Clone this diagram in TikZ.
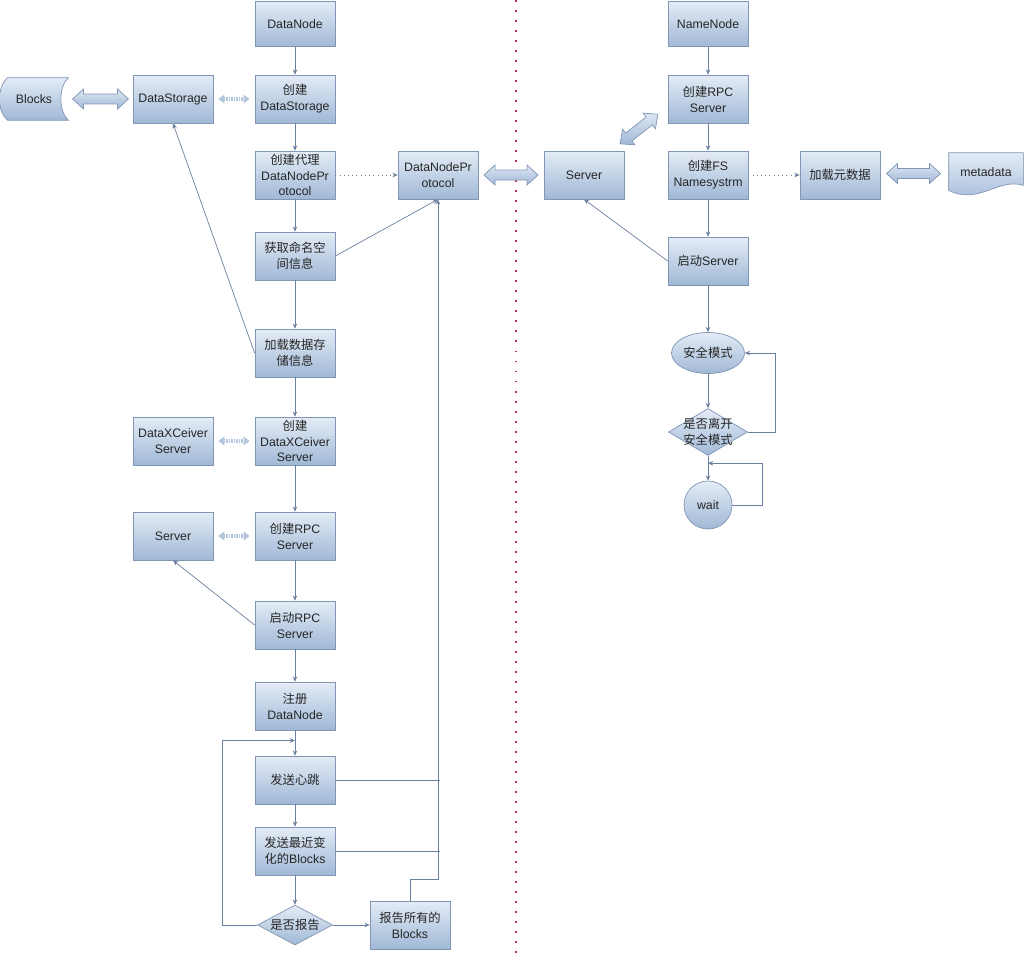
\documentclass[tikz,border=0pt]{standalone}
\usepackage{fontspec}
\setmainfont{Liberation Sans}
\newfontfamily\cjk{Noto Sans CJK SC}
\usetikzlibrary{shapes.geometric,arrows.meta,calc,backgrounds}

\definecolor{boxtop}{RGB}{228,236,246}
\definecolor{boxbot}{RGB}{160,184,214}
\definecolor{boxline}{RGB}{128,150,180}
\definecolor{flowline}{RGB}{105,128,158}
\definecolor{fattop}{RGB}{222,231,243}
\definecolor{fatbot}{RGB}{160,184,214}
\definecolor{divred}{RGB}{180,60,75}
\newcommand{\zh}[1]{{\cjk #1}}

\begin{document}
\begin{tikzpicture}[x=0.02cm,y=-0.02cm,
    font=\fontsize{7}{9}\selectfont,
    box/.style={rectangle,draw=boxline,line width=0.4pt,top color=boxtop,bottom color=boxbot,
                minimum width=1.6cm,minimum height=0.96cm,align=center,inner sep=1pt,text=black!85},
    decision/.style={diamond,draw=boxline,line width=0.4pt,top color=boxtop,bottom color=boxbot,
                inner sep=0pt,aspect=1.9,text=black!85},
    oval/.style={ellipse,draw=boxline,line width=0.4pt,top color=boxtop,bottom color=boxbot,
                inner sep=0pt,text=black!85},
    plain/.style={inner sep=0pt,text=black!85},
    store/.style={draw=boxline,line width=0.4pt,top color=boxtop,bottom color=boxbot},
    flow/.style={draw=flowline,line width=0.4pt,-{Stealth[length=3pt,width=2.6pt]}},
    link/.style={draw=flowline,line width=0.4pt},
    dotflow/.style={flow,dotted},
    hatched/.style={{Triangle[length=3.5pt,width=5pt]}-{Triangle[length=3.5pt,width=5pt]},
                draw=fatbot!80,line width=1.8pt,dash pattern=on 0.5pt off 0.45pt},
    fat/.style={draw=boxline,line width=0.4pt,top color=fattop,bottom color=fatbot},
    divider/.style={draw=divred,line width=1.1pt,dash pattern=on 1.1pt off 4.6pt},
  ]
  \useasboundingbox (0,0) rectangle (1024,953);

  % wide double arrow, #1 = centre, #2 = angle, #3 = half length
  \newcommand{\fatarrow}[3]{
    \begin{scope}[shift={(#1)},rotate=#2]
      \draw[fat] (-#3,0) -- (-#3+11,-10) -- (-#3+11,-5) -- (#3-11,-5) -- (#3-11,-10)
        -- (#3,0) -- (#3-11,10) -- (#3-11,5) -- (-#3+11,5) -- (-#3+11,10) -- cycle;
    \end{scope}
  }

  % ---------------------------------------------------------------- DataNode side
  \node[box,minimum height=0.9cm] (dn) at (295,24) {DataNode};
  \node[box] (mkstore) at (295,99)  {\zh{创建}\\DataStorage};
  \node[box] (mkproxy) at (295,175) {\zh{创建代理}\\DataNodePr\\otocol};
  \node[box] (getns)   at (295,256) {\zh{获取命名空}\\\zh{间信息}};
  \node[box] (loadst)  at (295,353) {\zh{加载数据存}\\\zh{储信息}};
  \node[box] (mkxc)    at (295,441) {\zh{创建}\\DataXCeiver\\Server};
  \node[box] (mkrpc)   at (295,536) {\zh{创建}RPC\\Server};
  \node[box] (runrpc)  at (295,625) {\zh{启动}RPC\\Server};
  \node[box] (reg)     at (295,706) {\zh{注册}\\DataNode};
  \node[box] (beat)    at (295,780) {\zh{发送心跳}};
  \node[box] (sendblk) at (295,851) {\zh{发送最近变}\\\zh{化的}Blocks};
  \node[decision,minimum width=1.5cm,minimum height=0.8cm] (ifrep) at (295,925) {\zh{是否报告}};
  \node[box] (repall)  at (410,925) {\zh{报告所有的}\\Blocks};

  \node[box] (dstore)  at (173,99)  {DataStorage};
  \node[box] (xcsrv)   at (173,441) {DataXCeiver\\Server};
  \node[box] (rpcsrv)  at (173,536) {Server};
  \node[box] (dnp)     at (438,175) {DataNodePr\\otocol};
  \node[plain,minimum width=1.36cm,minimum height=0.84cm] (blocks) at (34,99) {Blocks};

  \begin{scope}[on background layer]
    \draw[store] ($(blocks.north west)+(8,0)$) -- (blocks.north east)
      .. controls ($(blocks.east)+(-10,-12)$) and ($(blocks.east)+(-10,12)$) .. (blocks.south east)
      -- ($(blocks.south west)+(8,0)$)
      .. controls ($(blocks.west)+(-3,12)$) and ($(blocks.west)+(-3,-12)$) .. cycle;
  \end{scope}

  \foreach \a/\b in {dn/mkstore,mkstore/mkproxy,mkproxy/getns,getns/loadst,loadst/mkxc,
                     mkxc/mkrpc,mkrpc/runrpc,runrpc/reg,reg/beat,beat/sendblk,sendblk/ifrep}
    \draw[flow] (\a) -- (\b);

  % report loop
  \coordinate (back) at ($(reg.south)!0.4!(beat.north)$);
  \draw[flow] (ifrep.west) -- ++(-35,0) |- (back);
  \draw[flow] (ifrep) -- (repall);
  \draw[flow] (repall.north) -- ++(0,-21) -| (dnp.south);
  \draw[link] (beat.east) -- ++(105,0);
  \draw[link] (sendblk.east) -- ++(105,0);

  \draw[flow] (getns.east) -- (dnp.south);
  \draw[flow] (loadst.west) -- (dstore.south);
  \draw[flow] (runrpc.west) -- (rpcsrv.south);
  \draw[dotflow] (mkproxy) -- (dnp);

  \foreach \a/\b in {dstore/mkstore,xcsrv/mkxc,rpcsrv/mkrpc}
    \draw[hatched] ($(\a.east)+(5,0)$) -- ($(\b.west)+(-5,0)$);

  \fatarrow{$(blocks.east)!0.5!(dstore.west)$}{0}{28}

  % ---------------------------------------------------------------- divider
  \draw[divider] (516,0) -- (516,953);

  % ---------------------------------------------------------------- NameNode side
  \node[box,minimum height=0.9cm] (nn) at (708,24) {NameNode};
  \node[box] (nrpc)     at (708,99)  {\zh{创建}RPC\\Server};
  \node[box] (mkfs)     at (708,175) {\zh{创建}FS\\Namesystrm};
  \node[box] (nsrv)     at (584,175) {Server};
  \node[box] (loadmeta) at (840,175) {\zh{加载元数据}};
  \node[plain,minimum width=1.48cm,minimum height=0.76cm] (meta) at (986,172) {metadata};
  \node[box] (runsrv)   at (708,261) {\zh{启动}Server};
  \node[oval,minimum width=1.46cm,minimum height=0.82cm] (safe) at (708,353) {\zh{安全模式}};
  \node[decision,minimum width=1.58cm,minimum height=0.94cm,
        label={[align=center,text=black!85]center:\zh{是否离开}\\\zh{安全模式}}] (leave) at (708,432) {};
  \node[oval,circle,minimum size=0.96cm] (wait) at (708,505) {wait};

  \begin{scope}[on background layer]
    \draw[store] (meta.north west) -- (meta.north east) -- ($(meta.south east)+(0,-6)$)
      .. controls ($(meta.south east)+(-25,-14)$) and ($(meta.south west)+(30,14)$)
      .. ($(meta.south west)+(0,-1)$) -- cycle;
  \end{scope}

  \foreach \a/\b in {nn/nrpc,nrpc/mkfs,mkfs/runsrv,runsrv/safe,safe/leave,leave/wait}
    \draw[flow] (\a) -- (\b);

  \draw[flow] (leave.east) -- ++(27,0) |- (safe.east);
  \draw[flow] (wait.east) -- ++(30,0) |- ($(leave.south)!0.3!(wait.north)$);
  \draw[flow] (runsrv.west) -- (nsrv.south);
  \draw[dotflow] (mkfs) -- (loadmeta);

  \fatarrow{$(dnp.east)!0.5!(nsrv.west)$}{0}{27}
  \fatarrow{$(loadmeta.east)!0.5!(meta.west)+(-1,0)$}{0}{27}
  \fatarrow{$(nsrv.north east)!0.5!(nrpc.south west)+(-7,-8)$}{38}{24}
\end{tikzpicture}
\end{document}
